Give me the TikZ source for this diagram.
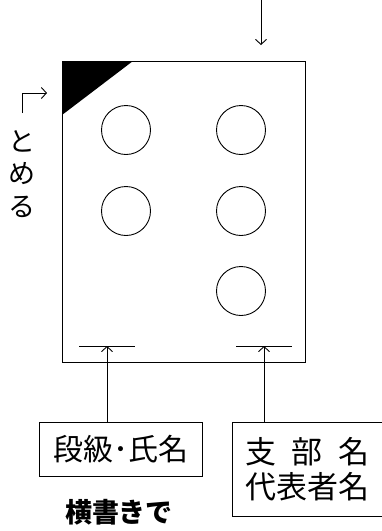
\documentclass[tikz,border=0pt]{standalone}
\usepackage{fontspec}
\newfontfamily\jp{Noto Sans CJK JP}
\usetikzlibrary{arrows.meta}
\tikzset{
  ln/.style={line width=0.9pt},
  arr/.style={ln,-{Straight Barb[length=5pt,width=11pt,line width=0.9pt]}},
  hole/.style={circle,draw,line width=0.9pt,minimum size=49pt,inner sep=0pt},
  label box/.style={draw,line width=0.9pt,inner sep=0pt},
}
\begin{document}
\begin{tikzpicture}[x=1pt,y=-1pt]
\useasboundingbox (0,0) rectangle (382,531);
% sheet
\node[draw,line width=0.9pt,minimum width=243pt,minimum height=301pt,inner sep=0pt,anchor=north west] (sheet) at (62,61) {};
\fill (sheet.north west) -- (133,61) -- (62,115) -- cycle;
% holes
\node[hole] (h1) at (126,130) {};
\node[hole] (h2) at (241,130) {};
\node[hole] (h3) at (126,211) {};
\node[hole] (h4) at (241,211) {};
\node[hole] (h5) at (241,291) {};
% top arrow
\coordinate (ts) at (261,0);
\coordinate (te) at (261,45);
\draw[arr] (ts) -- (te);
% binding arrow
\coordinate (bs) at (22,113);
\coordinate (bc) at (22,93);
\coordinate (be) at (47,93);
\draw[arr] (bs) -- (bc) -- (be);
\node[font=\jp\fontsize{27}{32.5}\selectfont,align=center,inner sep=0pt] (tomeru) at (22,174) {と\\め\\る};
% bottom bars
\coordinate (lb1) at (79,346); \coordinate (lb2) at (135,346); \coordinate (la) at (107,346);
\coordinate (rb1) at (236,346); \coordinate (rb2) at (292,346); \coordinate (ra) at (264,346);
\draw[ln] (lb1) -- (lb2);
\draw[ln] (rb1) -- (rb2);
% label boxes
\node[label box,minimum width=163pt,minimum height=54pt,anchor=north west] (lbox) at (39,422) {};
\node[font=\jp\fontsize{30}{30}\selectfont,inner sep=0pt] (ltext) at (lbox.center) {段級･氏名};
\node[label box,minimum width=149.5pt,minimum height=94pt,anchor=north west] (rbox) at (232,422) {};
\node[font=\jp\fontsize{31}{35}\selectfont,align=center,inner sep=0pt] (rtext) at (rbox.center) {\makebox[124pt][s]{支\hfill 部\hfill 名}\\代表者名};
\draw[arr] (lbox.north -| la) -- (la);
\draw[arr] (rbox.north -| ra) -- (ra);
\node[font=\jp\bfseries\fontsize{27}{27}\selectfont,inner sep=0pt] (yoko) at (119,512) {横書きで};
\end{tikzpicture}
\end{document}
